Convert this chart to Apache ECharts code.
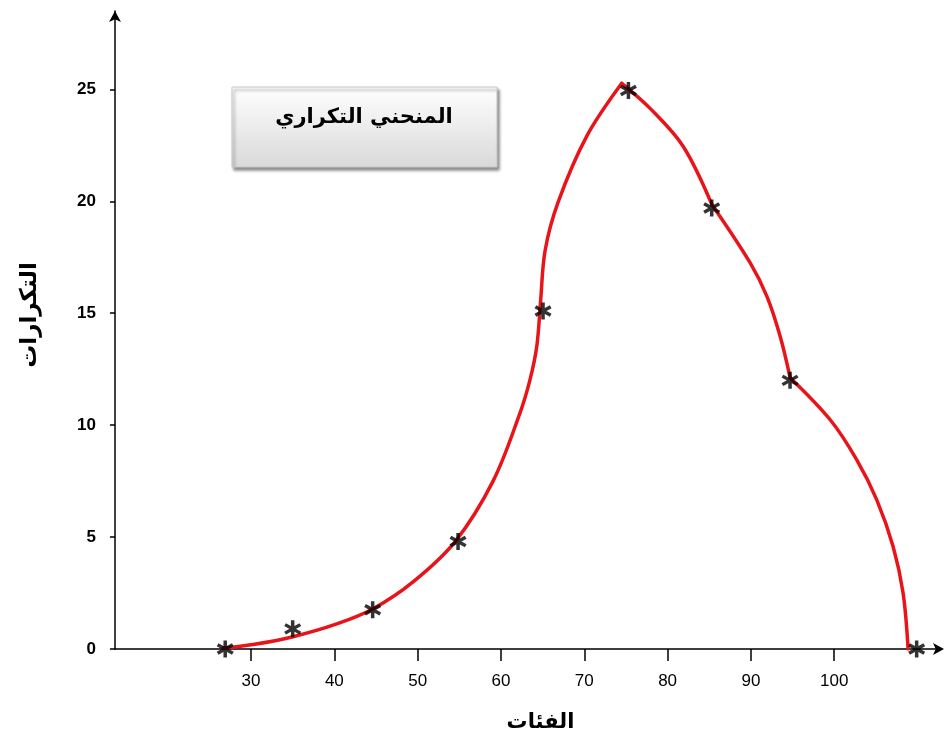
<!DOCTYPE html>
<html>
<head>
<meta charset="utf-8">
<script src="https://cdn.jsdelivr.net/npm/echarts@6/dist/echarts.min.js"></script>
<style>
html,body{margin:0;padding:0;background:#fff;}
#chart{width:945px;height:740px;}
</style>
</head>
<body>
<div id="chart"></div>
<script>
// Tick labels
const xTicks = [30, 40, 50, 60, 70, 80, 90, 100];
const yTicks = [0, 5, 10, 15, 20, 25];

// Star markers (class midpoints, frequencies)
const starX = [26.9, 35.0, 44.6, 54.85, 65.05, 75.3, 85.3, 94.7, 109.9];
const starY = [0, 0.9, 1.75, 4.8, 15.1, 24.95, 19.7, 12.0, 0];

// Red freehand curve, in pieces between its corners
const curve1X = [26.64, 30.24, 35.04, 40.29, 44.65, 49.45, 54.5, 59.05, 62.29, 63.49, 64.30, 64.75, 65.3, 66.85, 70.30, 74.50];
const curve1Y = [0.04, 0.2, 0.55, 1.12, 1.8, 3.0, 4.8, 7.5, 10.55, 12.03, 13.52, 15.5, 17.8, 19.95, 22.91, 25.27];
const curve2X = [74.50, 77.90, 81.86, 85.31];
const curve2Y = [25.27, 24.15, 22.46, 19.86];
const curve3X = [85.31, 89.90, 91.91, 93.51, 94.71];
const curve3Y = [19.86, 17.26, 15.76, 13.97, 12.12];
const curve4X = [94.71, 99.52, 102.71, 105.11, 107.07, 108.27, 108.87];
const curve4Y = [12.12, 10.24, 8.45, 6.66, 4.58, 2.50, 0];

const title = 'المنحني التكراري';
const xName = 'الفئات';
const yName = 'التكرارات';

const chart = echarts.init(document.getElementById('chart'));

const starPath = 'path://M-1.4,-7 L1.4,-7 L1.4,7 L-1.4,7 Z ' +
  'M-5.362,-4.712 L6.762,2.288 L5.362,4.712 L-6.762,-2.288 Z ' +
  'M6.762,-2.288 L-5.362,4.712 L-6.762,2.288 L5.362,-4.712 Z';

function curveSeries(xs, ys) {
  return {
    type: 'line',
    data: xs.map((x, i) => [x, ys[i]]),
    smooth: 0.35,
    showSymbol: false,
    symbol: 'none',
    lineStyle: { color: '#e8141a', width: 3.5, cap: 'round', join: 'round' },
    z: 2
  };
}

chart.setOption({
  animation: false,
  backgroundColor: '#ffffff',
  grid: { left: 115, right: 5, top: 11, bottom: 91, containLabel: false },
  xAxis: {
    type: 'value',
    min: 13.67,
    max: 112.7,
    name: xName,
    nameLocation: 'middle',
    nameGap: 63,
    nameTextStyle: { fontFamily: 'DejaVu Sans', fontWeight: 'bold', fontSize: 21, color: '#000', padding: [0, 0, 0, 26] },
    axisLine: { show: true, lineStyle: { color: '#000', width: 1.5 }, symbol: ['none', 'arrow'], symbolSize: [9, 11], symbolOffset: [0, 4] },
    axisTick: { show: true, length: 12, lineStyle: { color: '#000', width: 1.5 }, customValues: xTicks },
    axisLabel: { customValues: xTicks, margin: 24, fontFamily: 'Liberation Sans Narrow, Liberation Sans, Arial', fontSize: 17, color: '#000' },
    splitLine: { show: false }
  },
  yAxis: {
    type: 'value',
    min: 0,
    max: 28.5,
    name: yName,
    nameLocation: 'middle',
    nameRotate: 90,
    nameGap: 73,
    nameTextStyle: { fontFamily: 'DejaVu Sans', fontWeight: 'bold', fontSize: 23, color: '#000', padding: [0, 0, 0, 30] },
    axisLine: { show: true, onZero: false, lineStyle: { color: '#000', width: 1.5 }, symbol: ['none', 'arrow'], symbolSize: [9, 11] },
    axisTick: { show: true, length: 5, lineStyle: { color: '#000', width: 1.5 }, customValues: yTicks },
    axisLabel: { customValues: yTicks, margin: 19, fontFamily: 'Liberation Sans, Arial', fontWeight: 'bold', fontSize: 17, color: '#000' },
    splitLine: { show: false }
  },
  graphic: [
    {
      type: 'rect',
      shape: { x: 232, y: 87, width: 265, height: 80 },
      style: {
        fill: new echarts.graphic.LinearGradient(0, 0, 0, 1, [
          { offset: 0, color: '#ffffff' },
          { offset: 1, color: '#d9d9d9' }
        ]),
        stroke: '#c8c8c8',
        lineWidth: 1,
        shadowBlur: 3,
        shadowOffsetX: 2,
        shadowOffsetY: 3,
        shadowColor: 'rgba(0,0,0,0.45)'
      },
      z: 10
    },
    {
      type: 'text',
      x: 364,
      y: 118,
      style: {
        text: title,
        fontFamily: 'DejaVu Sans',
        fontWeight: 'bold',
        fontSize: 21,
        fill: '#000',
        align: 'center',
        verticalAlign: 'middle'
      },
      z: 11
    }
  ],
  series: [
    curveSeries(curve1X, curve1Y),
    curveSeries(curve2X, curve2Y),
    curveSeries(curve3X, curve3Y),
    curveSeries(curve4X, curve4Y),
    {
      type: 'scatter',
      data: starX.map((x, i) => [x, starY[i]]),
      symbol: starPath,
      symbolSize: [17, 17],
      itemStyle: { color: '#000' },
      z: 3
    }
  ]
});
</script>
</body>
</html>
